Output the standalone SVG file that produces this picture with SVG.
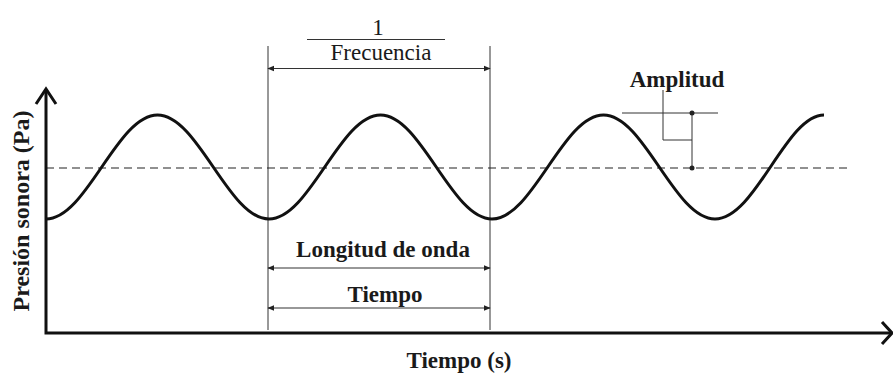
<svg xmlns="http://www.w3.org/2000/svg" width="893" height="375" viewBox="0 0 893 375">
<style>
.t{font-family:"Liberation Serif","Times New Roman",serif;font-size:23px;fill:#1a1a1a;text-anchor:middle}
.b{font-weight:bold}
.thin{stroke:#333;stroke-width:1;fill:none}
.dim{stroke:#333;stroke-width:1.2;fill:none;marker-start:url(#ah);marker-end:url(#ah)}
.axis{stroke:#111;stroke-width:3;fill:none}
</style>
<defs>
<marker id="ah" viewBox="0 0 10 10" refX="9" refY="5" markerWidth="7" markerHeight="7" markerUnits="userSpaceOnUse" orient="auto-start-reverse">
<path d="M0,1 L10,5 L0,9 z" fill="#222"/>
</marker>
</defs>
<rect width="893" height="375" fill="#fff"/>
<g id="connectors">
<line class="thin" x1="268" y1="46" x2="268" y2="330"/>
<line class="thin" x1="490" y1="46" x2="490" y2="330"/>
<line class="dim" x1="268" y1="68.5" x2="490" y2="68.5"/>
<line class="dim" x1="268" y1="268" x2="490" y2="268"/>
<line class="dim" x1="268" y1="308" x2="490" y2="308"/>
<line class="thin" x1="307" y1="39.5" x2="445" y2="39.5"/>
<line x1="46" y1="168" x2="848" y2="168" stroke="#222" stroke-width="1.2" stroke-dasharray="8,5"/>
<line class="thin" x1="622" y1="113" x2="718" y2="113"/>
<polyline class="thin" points="663,90 663,140 692,140"/>
<line class="thin" x1="692" y1="113" x2="692" y2="168"/>
<circle cx="692" cy="113" r="2.5" fill="#222"/>
<circle cx="692" cy="168" r="2.5" fill="#222"/>
</g>
<g id="axes">
<polyline class="axis" points="46,89 46,333 891,333"/>
<polyline class="axis" points="36,104 46,89 56,104"/>
<polyline class="axis" points="882,322 892,333 882,344"/>
</g>
<g id="wave">
<path d="M46,219 C86.6,219 116.9,115 157.5,115 C198.1,115 228.4,219 269,219 C309.6,219 339.9,115 380.5,115 C421.1,115 451.4,219 492,219 C532.6,219 562.9,115 603.5,115 C644.1,115 674.4,219 715,219 C755.6,219 785.9,115 824,115" stroke="#111" stroke-width="3" fill="none"/>
</g>
<g id="labels">
<text class="t" x="378" y="35">1</text>
<text class="t" x="381" y="60">Frecuencia</text>
<text class="t b" x="677" y="87">Amplitud</text>
<text class="t b" x="383" y="257">Longitud de onda</text>
<text class="t b" x="385" y="302">Tiempo</text>
<text class="t b" x="459" y="368">Tiempo (s)</text>
<text class="t b" style="font-size:24px" transform="translate(29,211) rotate(-90)">Presión sonora (Pa)</text>
</g>
</svg>
